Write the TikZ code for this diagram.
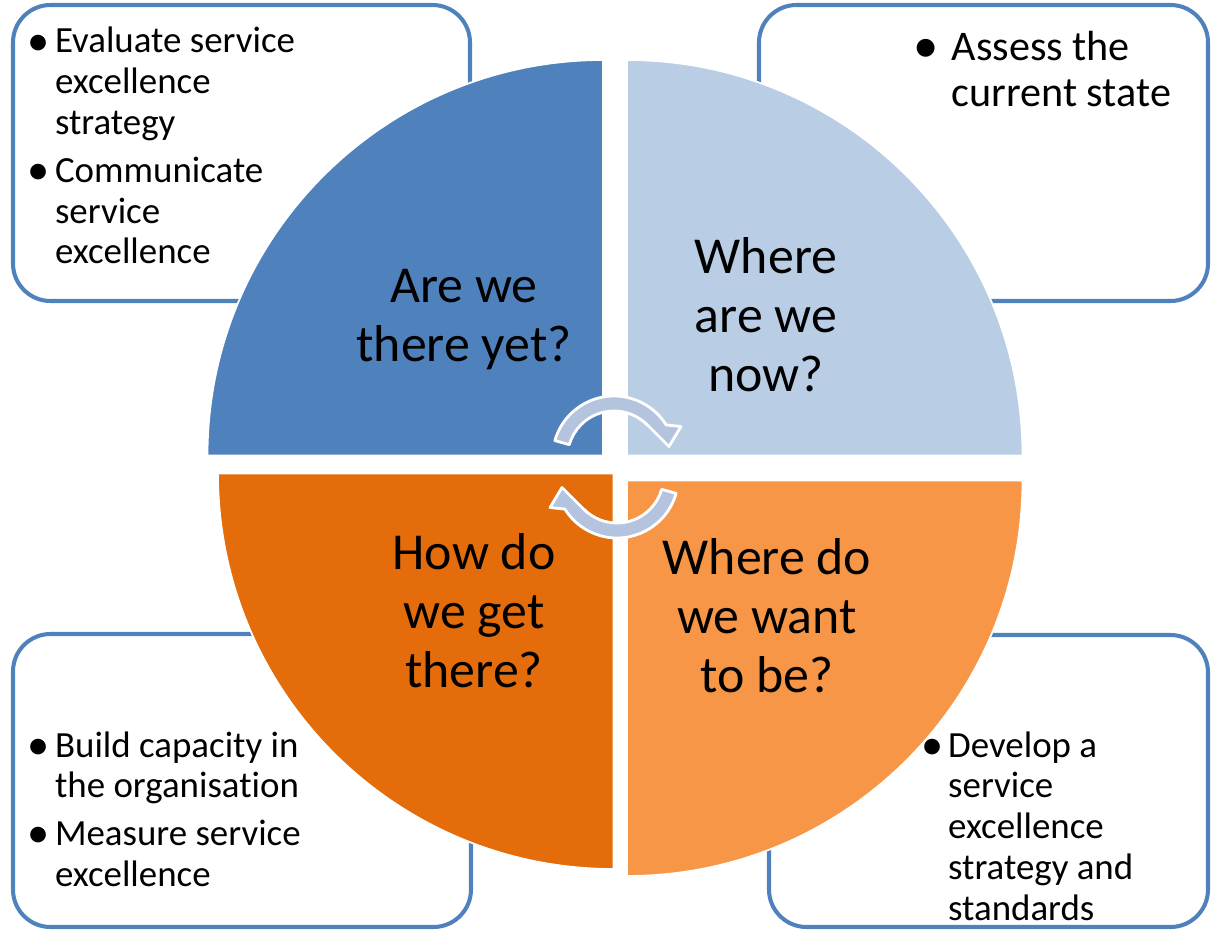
\documentclass[tikz,border=0pt]{standalone}
\usepackage{fontspec}
\setmainfont{Carlito}[Ligatures=NoCommon]
\usepackage{xcolor}
\usepackage{tikz}

\definecolor{boxblue}{HTML}{4F81BD}
\definecolor{nowblue}{HTML}{B9CDE5}
\definecolor{thereblue}{HTML}{4F81BD}
\definecolor{getorange}{HTML}{E46C0A}
\definecolor{wantorange}{HTML}{F79646}
\definecolor{arrowblue}{HTML}{B4C3DE}

\newcommand{\bul}[1][13.5pt]{\makebox[#1][l]{\kern-2pt\raisebox{-0.06em}{\scalebox{1.2}{\textbullet}}}}

\begin{document}
\begin{tikzpicture}[
  note/.style={rectangle, rounded corners=0.75cm, draw=boxblue, line width=2.3pt, fill=white},
  bullets/.style={anchor=base west, inner sep=0pt, font=\fontsize{21}{23.2}\selectfont},
  question/.style={align=center, anchor=base, inner sep=0pt, font=\fontsize{29.5}{33.5}\selectfont},
  quadrant/.style={draw=white, line width=1pt},
  cyclearrow/.style={fill=arrowblue, draw=white, line width=1.6pt, line join=round}
]
\useasboundingbox (-12.3,-9.24) rectangle (11.94,9.34);

% boxes behind the circle
\node[note, minimum width=9.14cm, minimum height=5.92cm] (evalbox) at (-7.47,6.28) {};
\node[note, minimum width=8.98cm, minimum height=5.92cm] (assessbox) at (7.37,6.28) {};
\node[note, minimum width=9.16cm, minimum height=5.86cm] (buildbox) at (-7.46,-6.27) {};
\node[note, minimum width=8.78cm, minimum height=5.84cm] (developbox) at (7.47,-6.28) {};

% the four quarters
\fill[quadrant, fill=thereblue] (-0.24,0.23) -- ++(-7.91,0) arc[start angle=180, end angle=90, radius=7.91] -- cycle;
\fill[quadrant, fill=nowblue] (0.24,0.23) -- ++(0,7.91) arc[start angle=90, end angle=0, radius=7.91] -- cycle;
\fill[quadrant, fill=wantorange] (0.24,-0.27) -- ++(7.91,0) arc[start angle=0, end angle=-90, radius=7.91] -- cycle;
\fill[quadrant, fill=getorange] (-0.03,-0.13) -- ++(0,-7.91) arc[start angle=270, end angle=180, radius=7.91] -- cycle;

% two turning arrows in the middle
\foreach \ang/\cx/\cy in {0/-0.02/0.19, 180/0.04/-0.19}
  \filldraw[cyclearrow, shift={(\cx,\cy)}, rotate=\ang]
    (164:1.23) arc[start angle=164, end angle=32, radius=1.23]
    -- (1.34,0.62) -- (1.10,0.22) -- (0.60,0.72)
    -- (45:0.93) arc[start angle=45, end angle=164, radius=0.93] -- cycle;

% questions (placed by their last line)
\node[question] (therelabel) at (-3.02,2.12) {Are we\\there yet?};
\node[question] (nowlabel) at (3.02,1.52) {Where\\are we\\now?};
\node[question] (getlabel) at (-2.82,-4.4) {How do\\we get\\there?};
\node[question] (wantlabel) at (3.04,-4.5) {Where do\\we want\\to be?};

% bullet lists
\node[bullets] (evaltext) at (-11.68,8.28) {\begin{tabular}[t]{@{}l@{}l@{}}
  \bul & Evaluate service\\ & excellence\\ & strategy\\[4pt]
  \bul & Communicate\\ & service\\ & excellence
\end{tabular}};
\node[bullets, font=\fontsize{24}{26.7}\selectfont] (assesstext) at (6.04,8.14) {\begin{tabular}[t]{@{}l@{}l@{}}
  \bul[19.5pt] & Assess the\\ & current state
\end{tabular}};
\node[bullets] (buildtext) at (-11.68,-5.8) {\begin{tabular}[t]{@{}l@{}l@{}}
  \bul & Build capacity in\\ & the organisation\\[4pt]
  \bul & Measure service\\ & excellence
\end{tabular}};
\node[bullets] (developtext) at (6.2,-5.8) {\begin{tabular}[t]{@{}l@{}l@{}}
  \bul[13pt] & Develop a\\ & service\\ & excellence\\ & strategy and\\ & standards
\end{tabular}};
\end{tikzpicture}
\end{document}
